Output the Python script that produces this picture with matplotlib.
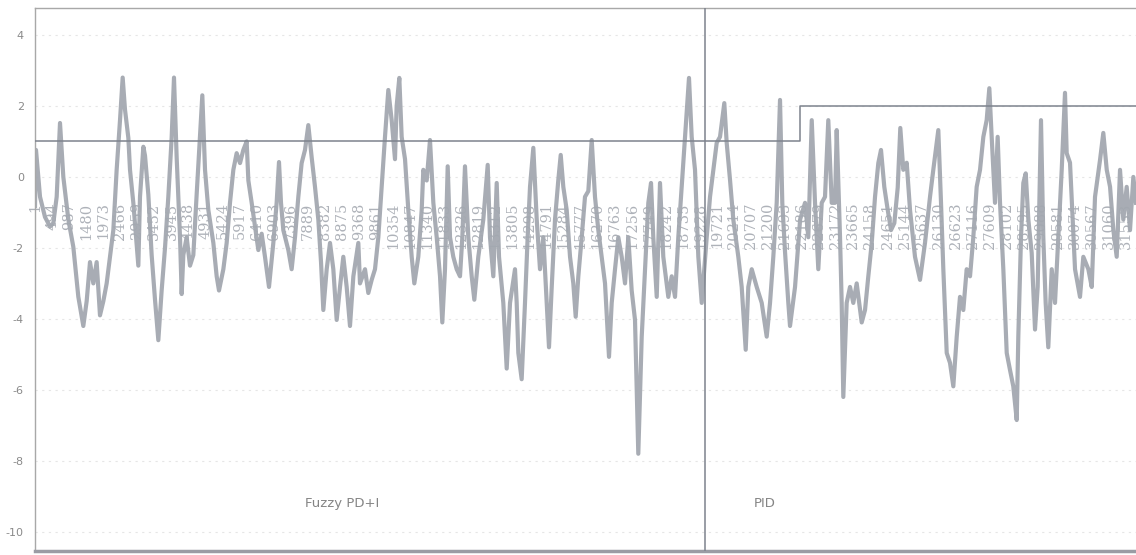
import matplotlib
matplotlib.use("Agg")
import matplotlib.pyplot as plt

# ---- data (sample index, response value) ----
sample_idx = [
    0, 29, 145, 289, 434, 530, 627, 723, 819, 964, 1108, 1253, 1397, 1494, 1590, 1687, 1783, 1879, 1976, 2072,
    2169, 2265, 2361, 2458, 2535, 2602, 2699, 2747, 2843, 2988, 3036, 3133, 3181, 3277, 3373, 3470, 3566, 3662,
    3759, 3855, 3951, 4019, 4096, 4193, 4241, 4289, 4385, 4482, 4578, 4674,
    4838, 4916, 5012, 5157, 5253, 5320, 5446, 5542, 5638, 5735, 5831, 5928, 6024, 6120, 6169, 6265, 6361, 6458,
    6554, 6650, 6766, 6891, 6987, 7055, 7113, 7180, 7325, 7421, 7518, 7614, 7710, 7807, 7903, 8000, 8096, 8192,
    8270, 8337, 8434, 8530, 8626, 8723, 8819, 8915, 9012, 9108, 9205, 9349,
    9397, 9542, 9638, 9735, 9831, 9927, 10024, 10120, 10216, 10313, 10409, 10457, 10534, 10602, 10699, 10794,
    10892, 10968, 11083, 11181, 11228, 11326, 11421, 11518, 11615, 11711, 11777, 11855, 11933, 12000, 12095,
    12193, 12289, 12356, 12433, 12529, 12627, 12703, 12818, 12963, 13090, 13156, 13252, 13350, 13417, 13541,
    13639, 13735, 13879, 13928,
    13975, 14072, 14168, 14245, 14313, 14409, 14507, 14602, 14698, 14796, 14862, 14941, 15036, 15132, 15201,
    15276, 15374, 15470, 15565, 15634, 15710, 15808, 15903, 15999, 16097, 16192, 16288, 16386, 16482, 16597,
    16675, 16771, 16866, 16964, 17060, 17155, 17253, 17349, 17444, 17543, 17638, 17734, 17812, 17878, 17977,
    18072, 18167, 18312, 18410, 18506, 18601,
    18699, 18795, 18910, 18988, 19084, 19180, 19278, 19422, 19518, 19613, 19711, 19807, 19931, 20000, 20096,
    20191, 20336, 20434, 20550, 20625, 20724, 20868, 21013, 21157, 21253, 21348, 21446, 21542, 21608, 21686,
    21782, 21831, 21976, 22123, 22265, 22360, 22459, 22554, 22649, 22748, 22843, 22938, 23037,
    23132, 23181, 23277, 23325, 23372, 23469, 23566, 23661, 23759, 23904, 24000, 24095, 24194, 24289, 24384,
    24462, 24557, 24656, 24751, 24847, 24945, 25020, 25107, 25205, 25301, 25445, 25590, 25734, 25879, 25974,
    26119, 26197, 26264, 26362, 26457, 26553, 26651, 26746, 26842, 26939, 27036, 27131, 27228, 27325, 27421,
    27517, 27594, 27662, 27758,
    27835, 27903, 27999, 28097, 28192, 28287, 28386, 28432, 28510, 28577, 28646, 28722, 28819, 28915, 28992,
    29088, 29155, 29223, 29299, 29398, 29493, 29588, 29687, 29782, 29831, 29927, 30072, 30216, 30312, 30457,
    30555, 30650, 30795, 30890, 30989, 31085, 31180, 31277, 31373, 31468, 31566, 31662, 31758, 31835,
]
response = [
    -0.82, 0.76, -0.56, -1.13, -1.40, -1.30, -0.56, 1.52, 0.00, -1.20, -1.97, -3.38, -4.20, -3.50, -2.40, -3.00,
    -2.40, -3.90, -3.50, -3.00, -2.25, -1.50, 0.20, 1.60, 2.80, 1.90, 1.10, 0.20, -0.73, -2.50, -0.56, 0.85,
    0.60, -0.50, -2.20, -3.46, -4.60, -3.20, -2.00, -0.56, 1.10, 2.80, 0.55, -1.70, -3.30, -2.20, -1.70, -2.50,
    -2.20, -0.50,
    2.30, 0.20, -0.93, -1.86, -2.80, -3.20, -2.60, -1.86, -0.73, 0.20, 0.67, 0.39, 0.76, 1.00, -0.10, -0.73,
    -1.40, -2.06, -1.60, -2.25, -3.10, -1.86, -0.73, 0.42, -0.73, -1.50, -2.06, -2.60, -1.70, -0.56, 0.39, 0.76,
    1.46, 0.55, -0.28, -1.20, -2.40, -3.75, -2.60, -1.86, -2.60, -4.03, -3.10, -2.25, -3.10, -4.20, -2.80, -1.86,
    -3.00, -2.60, -3.27, -2.90, -2.60, -1.70, -0.28, 1.13, 2.45, 1.60, 0.50, 2.00, 2.79, 1.13, 0.50, -0.93,
    -2.25, -3.00, -2.25, -0.93, 0.20, -0.10, 1.04, -0.73, -1.70, -2.80, -4.10, -2.60, 0.30, -1.70, -2.25,
    -2.60, -2.80, -1.70, 0.30, -1.70, -2.80, -3.46, -2.25, -1.20, 0.34, -1.70, -2.80, -0.17, -2.25, -3.55,
    -5.40, -3.55, -2.60, -3.55,
    -4.96, -5.70, -3.55, -1.70, -0.28, 0.82, -1.20, -2.60, -1.70, -3.55, -4.80, -3.10, -1.20, -0.08, 0.62,
    -0.28, -0.93, -2.25, -3.00, -3.94, -2.80, -1.70, -0.56, -0.40, 1.04, -0.56, -1.50, -2.25, -3.00, -5.07,
    -3.55, -2.60, -1.70, -2.25, -3.00, -1.70, -3.20, -4.03, -7.80, -4.50, -2.60, -0.73, -0.17, -1.70, -3.38,
    -0.17, -2.25, -3.38, -2.80, -3.38, -1.70,
    -0.28, 1.13, 2.79, 1.13, 0.20, -2.25, -3.55, -1.70, -0.56, 0.20, 0.96, 1.13, 2.08, 0.96, -0.08,
    -1.20, -2.25, -3.10, -4.87, -3.10, -2.60, -3.10, -3.55, -4.50, -3.55, -2.25, -0.73, 2.17, -0.73, -2.10,
    -3.55, -4.20, -3.10, -1.20, -0.73, -1.70, 1.60, -0.73, -2.60, -0.73, -0.56, 1.60, -0.73,
    -0.73, 1.32, -1.70, -3.55, -6.20, -3.55, -3.10, -3.55, -3.00, -4.10, -3.75, -2.80, -1.86, -0.56, 0.39,
    0.76, -0.28, -0.93, -1.50, -1.30, -0.30, 1.38, 0.20, 0.40, -0.93, -2.25, -2.90, -1.86, -0.56, 0.20,
    1.32, -0.73, -2.60, -4.96, -5.24, -5.90, -4.50, -3.38, -3.75, -2.60, -2.80, -1.70, -0.28, 0.20, 1.13,
    1.60, 2.50, 1.13, -0.73,
    1.13, -0.73, -2.60, -4.96, -5.44, -5.90, -6.85, -4.50, -1.70, -0.17, 0.10, -1.20, -2.14, -4.30, -3.10,
    1.60, -1.70, -3.55, -4.80, -2.60, -3.55, -1.70, 0.20, 2.37, 0.67, 0.40, -2.60, -3.38, -2.25, -2.60,
    -3.10, -0.56, 0.48, 1.24, 0.20, -0.28, -1.50, -2.25, 0.20, -1.20, -0.28, -1.50, 0.00, -0.73,
]

# set-point (step) line
setpoint_x = [0, 22120, 22120, 31835]
setpoint_y = [1, 1, 2, 2]

# controller switch position and region labels
switch_at = 19373
region_labels = ["Fuzzy PD+I", "PID"]
region_label_x = [8880, 21110]
region_label_y = [-9.2, -9.2]

# category axis labels (every 493 samples)
cat_labels = [1, 494, 987, 1480, 1973, 2466, 2959, 3452, 3945, 4438, 4931, 5424, 5917, 6410, 6903,
              7396, 7889, 8382, 8875, 9368, 9861, 10354, 10847, 11340, 11833, 12326, 12819, 13312,
              13805, 14298, 14791, 15284, 15777, 16270, 16763, 17256, 17749, 18242, 18735, 19228,
              19721, 20214, 20707, 21200, 21693, 22186, 22679, 23172, 23665, 24158, 24651, 25144,
              25637, 26130, 26623, 27116, 27609, 28102, 28595, 29088, 29581, 30074, 30567, 31060, 31553]

y_ticks = [4, 2, 0, -2, -4, -6, -8, -10]

# ---- figure ----
fig = plt.figure(figsize=(11.36, 5.55), dpi=100)
ax = fig.add_axes([35 / 1136, 1 - 551 / 555, 1 - 35 / 1136, (551 - 8) / 555])
ax.set_xlim(0, 31835)
ax.set_ylim(-10.54, 4.76)

data_col = "#a3a8b0"
ax.plot(sample_idx, response, color=data_col, lw=3.0, alpha=0.95, solid_joinstyle="round", zorder=2)
ax.plot(setpoint_x, setpoint_y, color="#7d838d", lw=1.1, zorder=3)
ax.axvline(switch_at, color="#7d838d", lw=1.1, zorder=3)

for lab, xv, yv in zip(region_labels, region_label_x, region_label_y):
    ax.text(xv, yv, lab, ha="center", va="center", fontsize=9.5, color="#858585",
            family=["Liberation Sans Narrow", "DejaVu Sans"])

for c in cat_labels:
    ax.text(c - 1, -0.72, str(c), rotation=90, ha="center", va="top", fontsize=10.5,
            color="#aeb2b9", zorder=1, family=["DejaVu Serif", "DejaVu Sans"])

ax.set_yticks(y_ticks)
ax.set_yticklabels([str(t) for t in y_ticks], fontsize=8, color="#8a8a8a")
ax.tick_params(axis="y", length=0, pad=8)
ax.set_xticks([])
ax.grid(axis="y", color="#e6e6e6", lw=0.8, ls=(0, (2, 4)), zorder=0)
ax.set_axisbelow(True)

for s in ["left", "top"]:
    ax.spines[s].set_color("#a8a8a8")
    ax.spines[s].set_linewidth(1.0)
ax.spines["bottom"].set_color("#9a9ca4")
ax.spines["bottom"].set_linewidth(2.5)
ax.spines["right"].set_visible(False)

fig.savefig("out.png", dpi=100)
